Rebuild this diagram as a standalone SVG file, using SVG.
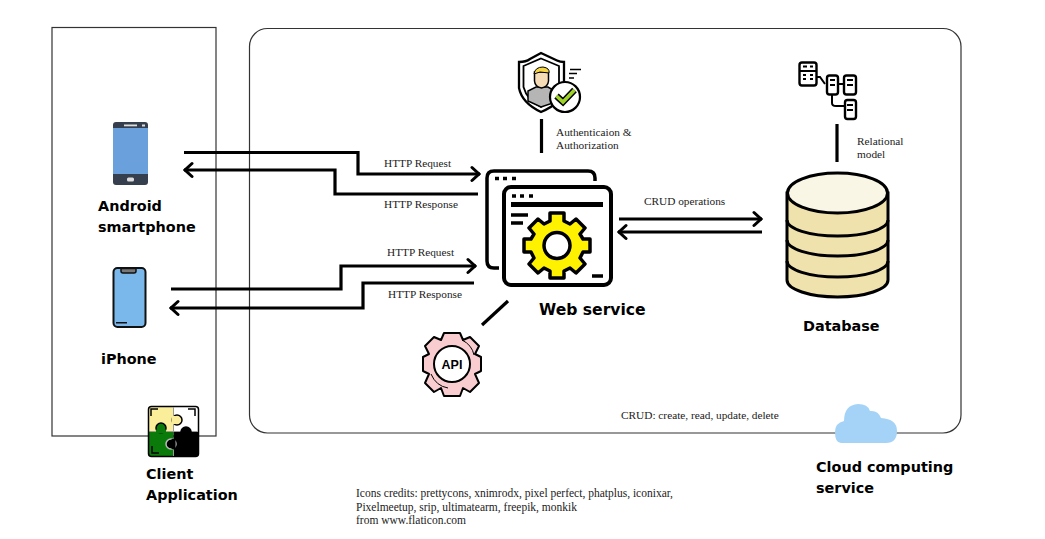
<svg xmlns="http://www.w3.org/2000/svg" width="1045" height="539" viewBox="0 0 1045 539">
<style>
.box{fill:none;stroke:#333;stroke-width:1.2}
.conn{fill:none;stroke:#000;stroke-width:3.200}
.s{font-family:"Liberation Serif",serif;font-size:11.300px;fill:#222}
.c{font-size:11.500px}
.b{font-family:"DejaVu Sans",sans-serif;font-weight:700;font-size:14.400px;fill:#000}
</style>
<defs>
<marker id="a" viewBox="0 0 12 18" refX="11" refY="9" markerWidth="12" markerHeight="18" markerUnits="userSpaceOnUse" orient="auto-start-reverse"><path d="M3 2.500L10 9L3 15.500" fill="none" stroke="#000" stroke-width="3" stroke-linecap="round"/></marker>
</defs>
<rect width="1045" height="539" fill="#fff"/>
<g id="client-box"><rect class="box" x="52" y="27.500" width="164" height="408.500"/></g>
<g id="cloud-box"><rect class="box" x="249.500" y="28.500" width="711.500" height="404.500" rx="18"/></g>
<g id="connectors">
<path class="conn" d="M184 152.500H358V174H480" marker-end="url(#a)"/>
<path class="conn" d="M478 194H335V170H184" marker-end="url(#a)"/>
<path class="conn" d="M171 289H341V266H476" marker-end="url(#a)"/>
<path class="conn" d="M474 283H363V308H170" marker-end="url(#a)"/>
<path class="conn" d="M619 219H762" marker-end="url(#a)"/>
<path class="conn" d="M762 232H618" marker-end="url(#a)"/>
<path class="conn" d="M541.500 119V153"/>
<path class="conn" d="M837 124V162"/>
<path class="conn" d="M482 325L508 301"/>
</g>
<g id="android">
<rect x="113" y="122" width="35" height="63" rx="3" fill="#363f4d"/>
<rect x="113" y="128" width="35" height="46" fill="#6aa0dc"/>
<rect x="124" y="124.500" width="13" height="1.800" fill="#ddd"/><rect x="142" y="124.500" width="3" height="2" fill="#ddd"/>
<rect x="127" y="177.500" width="7" height="4" rx="1.500" fill="#ddd"/>
<text class="b" x="98" y="211">Android</text><text class="b" x="98" y="232">smartphone</text>
</g>
<g id="iphone">
<rect x="113.500" y="268" width="32" height="59" rx="4" fill="#7ab8ec" stroke="#111" stroke-width="2"/>
<path d="M121 268.500H136V271Q136 273 134 273H123Q121 273 121 271Z" fill="#777" stroke="#111" stroke-width="1.500"/>
<rect x="116" y="322" width="11" height="1.500" fill="#111"/>
<text class="b" x="101" y="364">iPhone</text>
</g>
<g id="client-app">
<rect x="149" y="407" width="24.500" height="24.500" fill="#fbee9a"/>
<rect x="173.500" y="407" width="24.500" height="24.500" fill="#fff"/>
<rect x="149" y="431.500" width="24.500" height="24.500" fill="#0a7a0a"/>
<rect x="173.500" y="431.500" width="24.500" height="24.500" fill="#000"/>
<circle cx="161" cy="428" r="5" fill="#0a7a0a" stroke="#000" stroke-width="1.500"/>
<circle cx="177" cy="420" r="5" fill="#fbee9a" stroke="#000" stroke-width="1.500"/>
<circle cx="186" cy="432" r="5" fill="#000" stroke="#000" stroke-width="1.500"/>
<circle cx="171" cy="444" r="5" fill="#000" stroke="#bbb" stroke-width="1.500"/>
<path d="M173.500 416V424" stroke="#fbee9a" stroke-width="4"/>
<path d="M156 431.500H166" stroke="#0a7a0a" stroke-width="4"/>
<path d="M173.500 439V449" stroke="#000" stroke-width="4"/>
<rect x="148.500" y="406.500" width="50" height="50" rx="3" fill="none" stroke="#000" stroke-width="1.500"/>
<path d="M173.500 407V415M173.500 425V431.500H167M150 431.500H155M173.500 450V456M198 431.500H192M173.500 431.500H180" stroke="#999" stroke-width="1" fill="none"/>
<path d="M151 416V409H158M195 416V409H188" fill="none" stroke="#000" stroke-width="1.500"/>
<path d="M152 446V453H159" fill="none" stroke="#000" stroke-width="1.500"/>
<text class="b" x="146" y="479">Client</text><text class="b" x="146" y="500">Application</text>
</g>
<g id="auth">
<path d="M541 53L557 60.500Q560 62 564 62V90Q562 103 541 112Q522 103 519 88V62Q526 62 530 59Z" fill="#fff" stroke="#000" stroke-width="2.300"/>
<path d="M541 58.500L559 66V88Q556 100 541 107Q527 100 523.500 87V66Z" fill="#fff" stroke="#000" stroke-width="1.800"/>
<path d="M528 101V91L536 87H548L553 90V103L541 107Z" fill="#b5b5b5" stroke="#000" stroke-width="1.500"/>
<path d="M534.500 72H548.500V81Q548 87 541.500 88Q535 87 534.500 81Z" fill="#f6dcb6" stroke="#000" stroke-width="1.500"/>
<path d="M534 74Q535 67 543 67Q550 68 549 73L540 72Z" fill="#f5d445" stroke="#000" stroke-width="1"/>
<path d="M570 69.500H581M569 73.500H577M569 78H574" stroke="#000" stroke-width="1.500" fill="none"/>
<circle cx="565" cy="97" r="15" fill="#fff" stroke="#000" stroke-width="2.200"/>
<path d="M556.500 96L563 102L574.500 90" fill="none" stroke="#000" stroke-width="6.500"/>
<path d="M556.500 96L563 102L574.500 90" fill="none" stroke="#9fd32a" stroke-width="3.500"/>
<text class="s" x="556" y="136">Authenticaion &amp;</text><text class="s" x="556" y="149">Authorization</text>
</g>
<g id="relational">
<g fill="#fff" stroke="#000" stroke-width="2.400">
<rect x="799.500" y="62.500" width="17" height="23" rx="2.500"/>
<rect x="827" y="75.500" width="11" height="19" rx="2.500"/>
<rect x="844" y="75.500" width="12" height="19" rx="2.500"/>
<rect x="845" y="100" width="11" height="19" rx="2.500"/>
</g>
<path d="M816.500 77H820L825 84M838 84H844M832 95V103Q832 106 836 106H845" fill="none" stroke="#000" stroke-width="2"/>
<path d="M803 66.500H807M810 66.500H813M800 71H816M803 75H806M810 75H813M803 79H806M810 79H813M830 80H835M830 85H835M847 80H853M847 85H853M847 105H853M847 110H853" stroke="#000" stroke-width="1.800" fill="none"/>
<text class="s" x="857" y="145">Relational</text><text class="s" x="857" y="158">model</text>
</g>
<g id="web-service">
<path d="M595 181V178Q595 171 588 171H494Q487 171 487 178V261Q487 268 494 268H499" fill="none" stroke="#000" stroke-width="3.500"/>
<path d="M495 178.500H499M503 178.500H507M512 178.500H516" stroke="#000" stroke-width="3.500"/>
<rect x="504" y="187" width="107" height="98" rx="7" fill="#fff" stroke="#000" stroke-width="4"/>
<path d="M512 196H516M520 196H524M529 196H533" stroke="#000" stroke-width="3.500"/>
<path d="M511 204.500H603" stroke="#000" stroke-width="5"/>
<path d="M511 215H528M511 223H523M592 276H603" stroke="#000" stroke-width="3.500"/>
<path d="M550 213H564V221L570 224L576 219L585 228L580 234L583 239H590V252H583L580 258L585 264L576 273L570 268L564 271V278H550V271L544 268L538 273L529 264L534 258L531 252H524V239H531L534 234L529 228L538 219L544 224L550 221Z" fill="#fff200" stroke="#000" stroke-width="3.500" stroke-linejoin="round"/>
<circle cx="557" cy="245.500" r="13" fill="#fff" stroke="#000" stroke-width="3.500"/>
<text class="b" x="539" y="315" style="font-size:15.600px">Web service</text>
</g>
<g id="api">
<path d="M444 333H460L463 340L470 337L479 346L475 354L481 357V371L475 374L479 383L470 392L463 388L460 396H444L441 388L434 392L425 383L429 374L423 371V357L429 354L425 346L434 337L441 340Z" fill="#f9cccf" stroke="#000" stroke-width="2" stroke-linejoin="round"/>
<circle cx="452" cy="364" r="18" fill="#fff" stroke="#000" stroke-width="2"/>
<path d="M462 340Q472 345 474 355M431 374Q436 386 448 388" fill="none" stroke="#000" stroke-width="1"/>
<text x="452" y="368.500" text-anchor="middle" font-family="'Liberation Sans',sans-serif" font-weight="700" font-size="12.500px" fill="#000">API</text>
</g>
<g id="database">
<path d="M787 193V280A50.500 17 0 0 0 888 280V193Z" fill="#f0e2ad" stroke="#000" stroke-width="3"/>
<ellipse cx="837.500" cy="193" rx="50" ry="20" fill="#faf6e6" stroke="#000" stroke-width="3"/>
<path d="M787 220A50.500 16 0 0 0 888 220M787 240A50.500 16 0 0 0 888 240M787 261A50.500 16 0 0 0 888 261" fill="none" stroke="#000" stroke-width="3"/>
<text class="b" x="803" y="331">Database</text>
</g>
<g id="cloud">
<path d="M841 443Q835 443 835 432Q835 423 844 421Q844 405 858 404Q868 404 870 411Q878 410 881 418Q897 419 897 431Q897 443 886 443Z" fill="#a4d3f7"/>
<text class="b" x="816" y="472">Cloud computing</text><text class="b" x="816" y="493">service</text>
</g>
<g id="labels">
<text class="s" x="384" y="167">HTTP Request</text>
<text class="s" x="384" y="208">HTTP Response</text>
<text class="s" x="387" y="256">HTTP Request</text>
<text class="s" x="388" y="298">HTTP Response</text>
<text class="s" x="644" y="205">CRUD operations</text>
<text class="s" x="621" y="419">CRUD: create, read, update, delete</text>
<text class="s c" x="356" y="497">Icons credits: prettycons, xnimrodx, pixel perfect, phatplus, iconixar,</text>
<text class="s c" x="356" y="511">Pixelmeetup, srip, ultimatearm, freepik, monkik</text>
<text class="s c" x="356" y="524">from www.flaticon.com</text>
</g>
</svg>
